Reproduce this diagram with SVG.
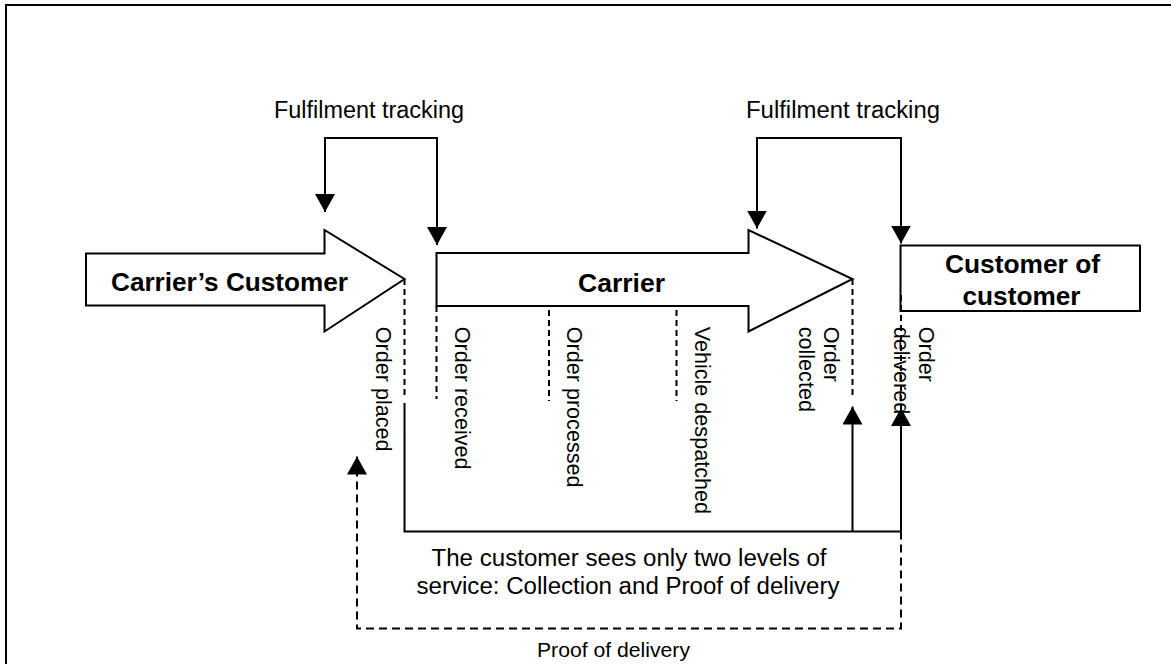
<svg xmlns="http://www.w3.org/2000/svg" width="1171" height="664" viewBox="0 0 1171 664">
<style>
.ln{fill:none;stroke:#000;stroke-width:2}
.dsh{fill:none;stroke:#000;stroke-width:2;stroke-dasharray:6 4}
.dsh2{fill:none;stroke:#000;stroke-width:2;stroke-dasharray:8 5}
.shape{fill:#fff;stroke:#000;stroke-width:2}
.b{font-family:"Liberation Sans",Arial,sans-serif;font-weight:bold;font-size:25px;fill:#000}
.t{font-family:"Liberation Sans",Arial,sans-serif;font-size:23px;fill:#000}
.r{font-family:"Liberation Sans",Arial,sans-serif;font-size:21.6px;fill:#000}
.p{font-family:"Liberation Sans",Arial,sans-serif;font-size:19.5px;fill:#000}
</style>
<defs>
<marker id="ah" viewBox="0 0 18 20" refX="18" refY="10" markerWidth="18" markerHeight="20" markerUnits="userSpaceOnUse" orient="auto-start-reverse">
<path d="M0,0 L18,10 L0,20 z" fill="#000"/>
</marker>
</defs>
<rect width="1171" height="664" fill="#fff"/>
<path class="ln" d="M6,666 V5 H1173"/>

<g id="carriers-customer">
<polygon class="shape" points="86,253.5 324.5,253.5 324.5,230 404.5,279 324.5,331.5 324.5,305.5 86,305.5"/>
<text class="b" x="229.5" y="291" text-anchor="middle" textLength="237" lengthAdjust="spacingAndGlyphs">Carrier’s Customer</text>
</g>

<g id="carrier">
<polygon class="shape" points="436.5,253 748.5,253 748.5,230 852.5,279 748.5,331.5 748.5,306 436.5,306"/>
<text class="b" x="621.5" y="291.5" text-anchor="middle" textLength="87" lengthAdjust="spacingAndGlyphs">Carrier</text>
</g>

<g id="customer-of-customer">
<rect class="shape" x="900.5" y="245.5" width="239.5" height="65.5"/>
<text class="b" x="1022.5" y="273" text-anchor="middle" textLength="155" lengthAdjust="spacingAndGlyphs">Customer of</text>
<text class="b" x="1021.5" y="305" text-anchor="middle" textLength="118" lengthAdjust="spacingAndGlyphs">customer</text>
</g>

<g id="connectors">
<path class="ln" d="M325,212 V138 H437 V245" marker-start="url(#ah)" marker-end="url(#ah)"/>
<path class="ln" d="M757,228.5 V138 H901 V243.5" marker-start="url(#ah)" marker-end="url(#ah)"/>
<path class="dsh" d="M404.5,279 V398"/>
<path class="dsh" d="M436.5,306 V399"/>
<path class="dsh" d="M549,310 V401"/>
<path class="dsh" d="M676.5,310 V401"/>
<path class="dsh" d="M852.5,279 V398"/>
<path class="dsh" d="M901,295 V430"/>
<path class="ln" d="M404.5,403 V531.5 H901"/>
<path class="ln" d="M852.5,531.5 V406.5" marker-end="url(#ah)"/>
<path class="ln" d="M901,531.5 V408" marker-end="url(#ah)"/>
<path class="dsh2" d="M901,531.5 V628.5 H357 V456.5" marker-end="url(#ah)"/>
</g>

<g id="labels">
<text class="t" x="369" y="118" text-anchor="middle" textLength="190" lengthAdjust="spacingAndGlyphs">Fulfilment tracking</text>
<text class="t" x="843" y="118" text-anchor="middle" textLength="194" lengthAdjust="spacingAndGlyphs">Fulfilment tracking</text>
<text class="r" transform="translate(376,326.7) rotate(90)">Order placed</text>
<text class="r" transform="translate(454.5,326.7) rotate(90)">Order received</text>
<text class="r" transform="translate(566.5,326.7) rotate(90)">Order processed</text>
<text class="r" transform="translate(694.5,326.7) rotate(90)">Vehicle despatched</text>
<text class="r" transform="translate(823.5,326.7) rotate(90)"><tspan x="0" y="0">Order</tspan><tspan x="0" y="25">collected</tspan></text>
<text class="r" transform="translate(919,326.7) rotate(90)"><tspan x="0" y="0">Order</tspan><tspan x="0" y="25">delivered</tspan></text>
<text class="t" x="629" y="566" text-anchor="middle" textLength="395" lengthAdjust="spacingAndGlyphs">The customer sees only two levels of</text>
<text class="t" x="628" y="593.5" text-anchor="middle" textLength="423" lengthAdjust="spacingAndGlyphs">service: Collection and Proof of delivery</text>
<text class="p" x="613.5" y="656.5" text-anchor="middle" textLength="153" lengthAdjust="spacingAndGlyphs">Proof of delivery</text>
</g>
</svg>
